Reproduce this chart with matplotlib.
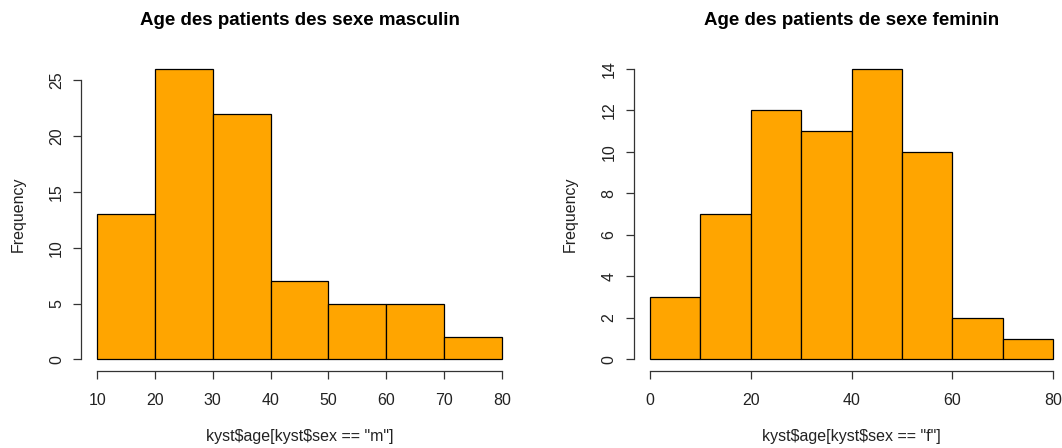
import matplotlib.pyplot as plt
import numpy as np

plt.rcParams['font.family'] = ['Liberation Sans', 'DejaVu Sans']

# data
edges_m = [10, 20, 30, 40, 50, 60, 70, 80]
counts_m = [13, 26, 22, 7, 5, 5, 2]
edges_f = [0, 10, 20, 30, 40, 50, 60, 70, 80]
counts_f = [3, 7, 12, 11, 14, 10, 2, 1]

xticks_m = [10, 20, 30, 40, 50, 60, 70, 80]
yticks_m = [0, 5, 10, 15, 20, 25]
xticks_f = [0, 20, 40, 60, 80]
yticks_f = [0, 2, 4, 6, 8, 10, 12, 14]

title_m = "Age des patients des sexe masculin"
title_f = "Age des patients de sexe feminin"
xlab_m = 'kyst$age[kyst$sex == "m"]'
xlab_f = 'kyst$age[kyst$sex == "f"]'

W, H = 1062, 448
fig = plt.figure(figsize=(W / 100, H / 100), dpi=100)

fs = 11.5


def r_hist(rect, edges, counts, xticks, yticks, title, xlab):
    ax = fig.add_axes(rect)
    edges = np.array(edges)
    ax.bar(edges[:-1], counts, width=np.diff(edges), align='edge',
           color='orange', edgecolor='black', linewidth=0.9)
    # R style 4% axis extension
    x0, x1 = edges[0], edges[-1]
    dx = (x1 - x0) * 0.04
    ax.set_xlim(x0 - dx, x1 + dx)
    ytop = max(counts)
    ax.set_ylim(-ytop * 0.04, ytop * 1.04)
    for s in ['top', 'right']:
        ax.spines[s].set_visible(False)
    ax.spines['left'].set_bounds(yticks[0], yticks[-1])
    ax.spines['bottom'].set_bounds(xticks[0], xticks[-1])
    for s in ['left', 'bottom']:
        ax.spines[s].set_color('#333333')
        ax.spines[s].set_linewidth(0.9)
    ax.set_xticks(xticks)
    ax.set_yticks(yticks)
    ax.tick_params(length=5.8, width=0.9, color='#333333', labelsize=fs,
                   labelcolor='#222222')
    ax.tick_params(axis='x', pad=10)
    ax.tick_params(axis='y', pad=6.5)
    for lab in ax.get_yticklabels():
        lab.set_rotation(90)
        lab.set_va('center')
    ax.text(0.5, 1.118, title, transform=ax.transAxes, ha='center',
            va='center', fontsize=13.5, fontweight='bold')
    ax.set_xlabel(xlab, fontsize=fs, color='#222222', labelpad=15,
                  parse_math=False)
    ax.set_ylabel("Frequency", fontsize=fs, color='#222222', labelpad=17)
    return ax


bottom = 77 / H
height = (390.8 - 77) / H
r_hist([81 / W, bottom, 437 / W, height], edges_m, counts_m,
       xticks_m, yticks_m, title_m, xlab_m)
r_hist([633.5 / W, bottom, 436 / W, height], edges_f, counts_f,
       xticks_f, yticks_f, title_f, xlab_f)

fig.savefig("out.png", dpi=100)
